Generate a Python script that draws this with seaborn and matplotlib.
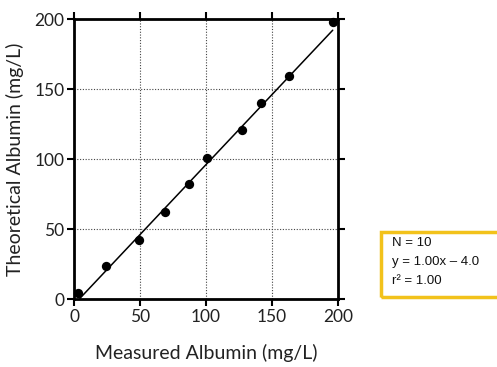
import numpy as np
import pandas as pd
import matplotlib
matplotlib.use("Agg")
import matplotlib.pyplot as plt
import seaborn as sns
from matplotlib.patches import Rectangle

# olculen / teorik albumin degerleri (mg/L)
measured = [3, 24, 49, 69, 87, 100.5, 127.5, 141.5, 163, 196]
theoretical = [4, 23.5, 42.5, 62, 82, 100.5, 120.5, 140, 159, 198]
slope = 1.00
intercept = -4.0
stats_lines = ["N = 10", "y = 1.00x \u2013 4.0", "r\u00b2 = 1.00"]

df = pd.DataFrame({"Measured": measured, "Theoretical": theoretical})

sns.set_style("white")
plt.rcParams["font.family"] = ["Lato", "DejaVu Sans"]

fig = plt.figure(figsize=(4.97, 3.67), dpi=100)
ax = fig.add_axes([74 / 497, 1 - 299 / 367, 264 / 497, 280 / 367])

sns.scatterplot(data=df, x="Measured", y="Theoretical", ax=ax,
                color="black", s=45, edgecolor="black", linewidth=0, zorder=5,
                clip_on=False)

# fit cizgisi
xs = np.array([min(measured) + 1.5, max(measured)])
ax.plot(xs, slope * xs + intercept, color="black", lw=1.1, zorder=4)

ax.set_xlim(0, 200)
ax.set_ylim(0, 200)
ax.set_xticks([0, 50, 100, 150, 200])
ax.set_yticks([0, 50, 100, 150, 200])
ax.grid(True, color="#444444", linestyle=(0, (1, 1.5)), lw=0.8)

for s in ax.spines.values():
    s.set_visible(True)
    s.set_color("black")
    s.set_linewidth(2)

ax.tick_params(axis="both", which="both", direction="out", length=5, width=1.5,
               colors="black", labelsize=12.5, top=True, right=True, bottom=True, left=True,
               labeltop=False, labelright=False, pad=2)
for lab in ax.get_xticklabels() + ax.get_yticklabels():
    lab.set_color("#222222")

ax.set_xlabel("Measured Albumin (mg/L)", fontsize=14, color="#222222", labelpad=14)
ax.set_ylabel("Theoretical Albumin (mg/L)", fontsize=14, color="#222222", labelpad=7)

# istatistik kutusu
fig.patches.append(Rectangle((381 / 497, 1 - 297 / 367), 130 / 497, 65 / 367,
                             transform=fig.transFigure, fill=False,
                             edgecolor="#F2C21B", lw=2.5))
for i, line in enumerate(stats_lines):
    fig.text(392 / 497, 1 - (243 + i * 19) / 367, line, fontsize=9.5,
             family=["Liberation Sans", "DejaVu Sans"], va="center", ha="left",
             color="#111111")

fig.savefig("out.png", dpi=100)
